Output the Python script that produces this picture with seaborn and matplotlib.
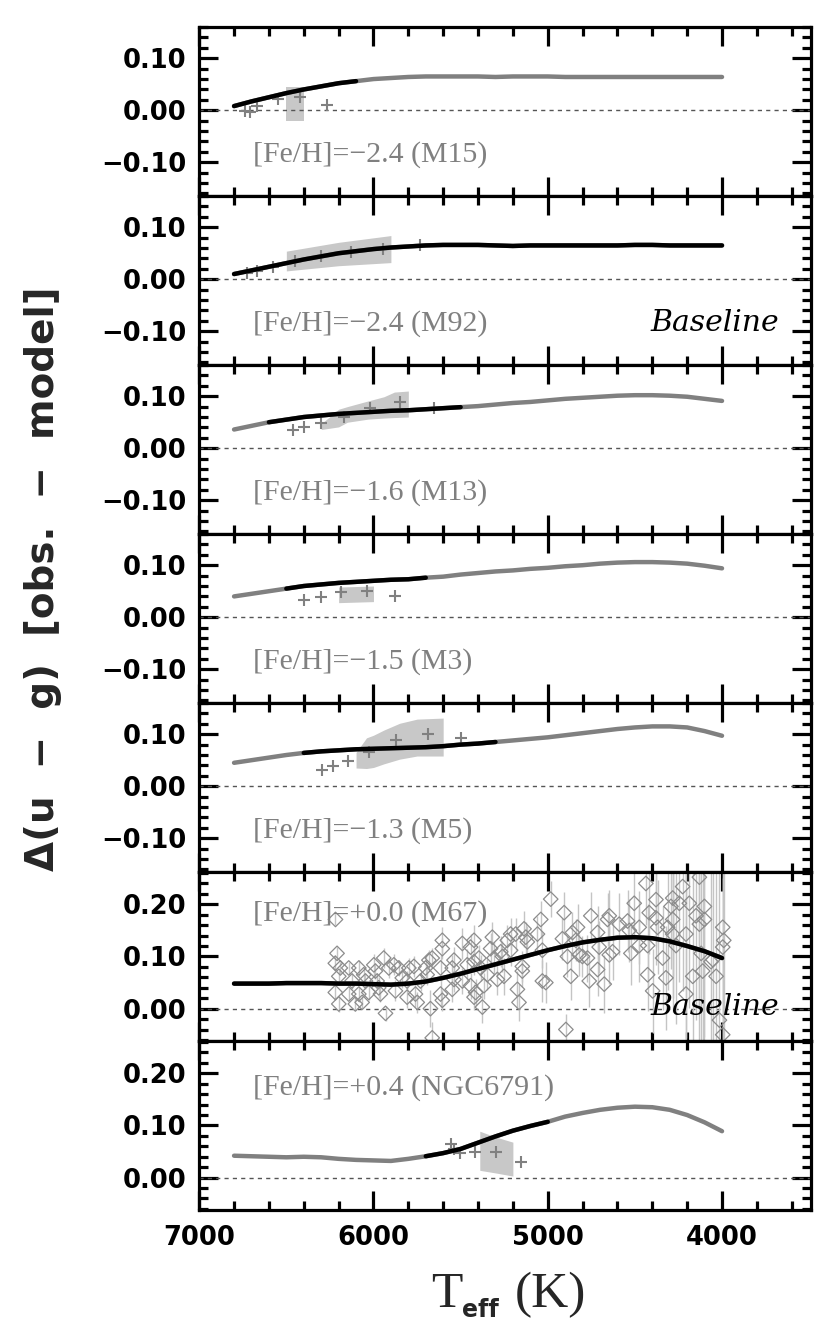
import matplotlib
matplotlib.use("Agg")
import matplotlib.pyplot as plt
import seaborn as sns
import pandas as pd
from matplotlib.ticker import MultipleLocator, FixedLocator, FixedFormatter

# model grid (K)
teff_model = list(range(6800, 3999, -100))

# model curves, Delta(u-g) on the grid above
m15_model = [0.008, 0.017, 0.025, 0.033, 0.040, 0.046, 0.052, 0.056, 0.060, 0.062,
             0.064, 0.065, 0.065, 0.065, 0.065, 0.064, 0.065, 0.065, 0.065, 0.064,
             0.064, 0.064, 0.064, 0.064, 0.064, 0.064, 0.064, 0.064, 0.064]
m92_model = [0.010, 0.017, 0.024, 0.031, 0.038, 0.044, 0.050, 0.054, 0.058, 0.061,
             0.063, 0.065, 0.066, 0.066, 0.066, 0.065, 0.064, 0.065, 0.065, 0.065,
             0.065, 0.065, 0.065, 0.066, 0.066, 0.065, 0.065, 0.065, 0.065]
m13_model = [0.036, 0.043, 0.050, 0.055, 0.060, 0.063, 0.066, 0.068, 0.070, 0.072,
             0.073, 0.075, 0.077, 0.079, 0.081, 0.084, 0.087, 0.089, 0.092, 0.095,
             0.097, 0.099, 0.101, 0.102, 0.102, 0.101, 0.099, 0.095, 0.091]
m3_model = [0.040, 0.045, 0.050, 0.055, 0.060, 0.063, 0.066, 0.068, 0.070, 0.072,
            0.073, 0.076, 0.078, 0.082, 0.085, 0.088, 0.090, 0.093, 0.095, 0.098,
            0.100, 0.103, 0.105, 0.106, 0.106, 0.105, 0.103, 0.099, 0.094]
m5_model = [0.045, 0.050, 0.055, 0.060, 0.064, 0.067, 0.069, 0.071, 0.072, 0.073,
            0.074, 0.075, 0.077, 0.080, 0.082, 0.085, 0.088, 0.091, 0.094, 0.098,
            0.102, 0.106, 0.110, 0.113, 0.115, 0.115, 0.113, 0.106, 0.097]
m67_model = [0.048, 0.048, 0.048, 0.049, 0.049, 0.049, 0.048, 0.048, 0.047, 0.046,
             0.048, 0.052, 0.059, 0.067, 0.076, 0.085, 0.094, 0.103, 0.112, 0.120,
             0.127, 0.132, 0.136, 0.137, 0.135, 0.129, 0.120, 0.110, 0.097]
n6791_model = [0.042, 0.041, 0.040, 0.039, 0.040, 0.039, 0.036, 0.034, 0.033, 0.032,
               0.036, 0.041, 0.047, 0.055, 0.067, 0.079, 0.090, 0.099, 0.107, 0.117,
               0.124, 0.130, 0.134, 0.136, 0.135, 0.130, 0.120, 0.106, 0.089]

# Teff range where the model line is drawn black (hot, cool)
m15_fit = (6800, 6100)
m92_fit = (6800, 4000)
m13_fit = (6600, 5500)
m3_fit = (6500, 5700)
m5_fit = (6400, 5300)
m67_fit = (6800, 4000)
n6791_fit = (5700, 5000)

# shaded uncertainty bands
m15_band_t = [6500, 6400]
m15_band_lo = [-0.020, -0.020]
m15_band_hi = [0.045, 0.045]
m92_band_t = [6500, 6200, 5900]
m92_band_lo = [0.016, 0.026, 0.032]
m92_band_hi = [0.054, 0.071, 0.084]
m13_band_t = [6300, 6200, 6150, 6030, 5940, 5880, 5800]
m13_band_lo = [0.036, 0.041, 0.050, 0.056, 0.058, 0.059, 0.060]
m13_band_hi = [0.047, 0.075, 0.080, 0.091, 0.099, 0.108, 0.110]
m3_band_t = [6200, 6000]
m3_band_lo = [0.028, 0.030]
m3_band_hi = [0.058, 0.060]
m5_band_t = [6100, 6040, 6000, 5940, 5850, 5750, 5600]
m5_band_lo = [0.035, 0.034, 0.036, 0.043, 0.052, 0.058, 0.058]
m5_band_hi = [0.065, 0.093, 0.098, 0.108, 0.121, 0.129, 0.131]
n6791_band_t = [5390, 5300, 5200]
n6791_band_lo = [0.014, 0.009, 0.003]
n6791_band_hi = [0.089, 0.078, 0.068]

# cluster points (+)
m15_t = [6740, 6710, 6670, 6550, 6420, 6265]
m15_d = [-0.002, -0.004, 0.009, 0.021, 0.025, 0.010]
m92_t = [6725, 6670, 6575, 6450, 6300, 6130, 5945, 5735]
m92_d = [0.012, 0.016, 0.024, 0.035, 0.044, 0.053, 0.058, 0.065]
m13_t = [6460, 6400, 6300, 6170, 6020, 5845, 5655]
m13_d = [0.036, 0.041, 0.049, 0.060, 0.078, 0.088, 0.078]
m3_t = [6400, 6300, 6185, 6040, 5875]
m3_d = [0.033, 0.039, 0.048, 0.050, 0.040]
m5_t = [6295, 6235, 6145, 6025, 5870, 5690, 5495]
m5_d = [0.031, 0.039, 0.049, 0.065, 0.088, 0.101, 0.092]
n6791_t = [5556, 5536, 5501, 5419, 5295, 5151]
n6791_d = [0.065, 0.055, 0.048, 0.050, 0.050, 0.030]

# M67 individual stars (diamonds with error bars)
m67_t = [6218, 6209, 6219, 6190, 6199, 6219, 6199, 6142, 6142, 6123,
         6084, 6084, 6104, 6065, 6056, 6046, 6027, 5998, 5989, 5979,
         5970, 5960, 5941, 5931, 5912, 5883, 5874, 5855, 5835, 5807,
         5797, 5768, 5759, 5749, 5807, 5730, 5701, 5682, 5663, 5692,
         5673, 5663, 5605, 5605, 5615, 5615, 5605, 5548, 5538, 5538,
         5548, 5490, 5490, 5423, 5443, 5462, 5423, 5395, 5385, 5443,
         5414, 5423, 5375, 5366, 5347, 5328, 5318, 5308, 5289, 5270,
         5260, 5251, 5232, 5213, 5213, 5184, 5174, 5165, 5146, 5146,
         5136, 5126, 5117, 5059, 5040, 5031, 5031, 5011, 4983, 4906,
         4916, 4887, 4868, 4858, 4839, 4829, 4820, 4801, 4772, 4762,
         4753, 4714, 4896, 4647, 4657, 4705, 4714, 4676, 4647, 4628,
         4590, 4542, 4532, 4504, 4523, 4475, 4475, 4437, 4427, 4427,
         4418, 4379, 4379, 4370, 4398, 4341, 4322, 4312, 4283, 4293,
         4283, 4283, 4264, 4245, 4226, 4207, 4207, 4188, 4168, 4149,
         4130, 4130, 4120, 4111, 4101, 4101, 4063, 4053, 4034, 4015,
         3996, 3990, 3996, 3996]
m67_d = [0.171, 0.106, 0.087, 0.078, 0.062, 0.031, 0.009, 0.078, 0.028, 0.053,
         0.078, 0.028, 0.009, 0.012, 0.065, 0.053, 0.031, 0.084, 0.072, 0.053,
         0.040, 0.028, 0.097, -0.009, 0.078, 0.084, 0.034, 0.078, 0.059, 0.053,
         0.078, 0.081, 0.028, 0.012, 0.022, 0.053, 0.078, 0.093, 0.097, 0.065,
         0.000, -0.056, 0.131, 0.115, 0.078, 0.028, 0.016, 0.078, 0.093, 0.056,
         0.037, 0.125, 0.053, 0.131, 0.118, 0.084, 0.090, 0.097, 0.078, 0.044,
         0.031, 0.022, 0.003, 0.044, 0.065, 0.115, 0.137, 0.097, 0.056, 0.109,
         0.100, 0.062, 0.131, 0.112, 0.143, 0.143, 0.037, 0.012, 0.081, 0.072,
         0.153, 0.137, 0.128, 0.143, 0.171, 0.112, 0.053, 0.050, 0.210, 0.184,
         0.134, 0.100, 0.062, 0.146, 0.131, 0.156, 0.103, 0.100, 0.097, 0.053,
         0.178, 0.146, -0.040, 0.178, 0.171, 0.118, 0.075, 0.047, 0.103, 0.109,
         0.162, 0.168, 0.150, 0.202, 0.106, 0.121, 0.156, 0.240, 0.121, 0.065,
         0.184, 0.209, 0.174, 0.156, 0.034, 0.097, 0.059, 0.156, 0.171, 0.196,
         0.212, 0.143, 0.121, 0.202, 0.234, 0.143, 0.028, 0.202, 0.062, 0.178,
         0.162, 0.252, 0.106, 0.072, 0.196, 0.171, 0.090, 0.094, 0.062, -0.022,
         0.156, 0.131, 0.118, -0.050]
m67_err = [0.010, 0.012, 0.015, 0.012, 0.012, 0.015, 0.015, 0.012, 0.012, 0.015,
           0.015, 0.015, 0.012, 0.012, 0.015, 0.015, 0.015, 0.020, 0.015, 0.015,
           0.020, 0.015, 0.020, 0.015, 0.020, 0.020, 0.020, 0.015, 0.020, 0.020,
           0.020, 0.020, 0.025, 0.020, 0.020, 0.020, 0.025, 0.020, 0.020, 0.020,
           0.035, 0.030, 0.025, 0.020, 0.025, 0.025, 0.020, 0.025, 0.025, 0.025,
           0.025, 0.030, 0.025, 0.030, 0.025, 0.030, 0.025, 0.025, 0.025, 0.025,
           0.025, 0.025, 0.030, 0.025, 0.030, 0.030, 0.030, 0.030, 0.030, 0.030,
           0.030, 0.035, 0.030, 0.030, 0.030, 0.030, 0.035, 0.035, 0.030, 0.030,
           0.035, 0.030, 0.030, 0.035, 0.035, 0.035, 0.040, 0.040, 0.035, 0.040,
           0.040, 0.040, 0.045, 0.040, 0.040, 0.045, 0.040, 0.040, 0.045, 0.050,
           0.045, 0.050, 0.030, 0.050, 0.050, 0.050, 0.050, 0.055, 0.055, 0.055,
           0.060, 0.060, 0.060, 0.070, 0.060, 0.070, 0.070, 0.080, 0.080, 0.070,
           0.080, 0.090, 0.090, 0.090, 0.080, 0.100, 0.100, 0.120, 0.150, 0.120,
           0.150, 0.150, 0.150, 0.150, 0.200, 0.200, 0.200, 0.200, 0.200, 0.200,
           0.250, 0.250, 0.250, 0.250, 0.250, 0.300, 0.300, 0.300, 0.300, 0.300,
           0.300, 0.300, 0.300, 0.300]

labels = ["[Fe/H]=\u22122.4 (M15)", "[Fe/H]=\u22122.4 (M92)", "[Fe/H]=\u22121.6 (M13)",
          "[Fe/H]=\u22121.5 (M3)", "[Fe/H]=\u22121.3 (M5)", "[Fe/H]=+0.0 (M67)",
          "[Fe/H]=+0.4 (NGC6791)"]
label_y = [-0.085, -0.085, -0.085, -0.085, -0.085, 0.183, 0.172]

sns.set_style("ticks")
plt.rcParams["font.family"] = ["DejaVu Sans"]

GRAY = "#808080"
BAND = "#c8c8c8"

models = [m15_model, m92_model, m13_model, m3_model, m5_model, m67_model, n6791_model]
fits = [m15_fit, m92_fit, m13_fit, m3_fit, m5_fit, m67_fit, n6791_fit]
bands = [(m15_band_t, m15_band_lo, m15_band_hi), (m92_band_t, m92_band_lo, m92_band_hi),
         (m13_band_t, m13_band_lo, m13_band_hi), (m3_band_t, m3_band_lo, m3_band_hi),
         (m5_band_t, m5_band_lo, m5_band_hi), None,
         (n6791_band_t, n6791_band_lo, n6791_band_hi)]
points = [(m15_t, m15_d), (m92_t, m92_d), (m13_t, m13_d), (m3_t, m3_d),
          (m5_t, m5_d), None, (n6791_t, n6791_d)]

fig, axes = plt.subplots(7, 1, sharex=True, figsize=(8.3, 13.33), dpi=100)
fig.subplots_adjust(left=0.240, right=0.977, top=0.9797, bottom=0.0923, hspace=0)

for i, ax in enumerate(axes):
    mod = pd.DataFrame({"teff": teff_model, "dug": models[i]})
    hot, cool = fits[i]
    fit = mod[(mod.teff <= hot) & (mod.teff >= cool)]

    if bands[i] is not None:
        bt, blo, bhi = bands[i]
        ax.fill_between(bt, blo, bhi, color=BAND, lw=0, zorder=1)

    ax.axhline(0, color="#555555", lw=1.0, ls=(0, (3.0, 3.0)), zorder=1.5)

    if points[i] is not None:
        pt, pd_ = points[i]
        ax.plot(pt, pd_, ls="none", marker="+", ms=9, mew=1.5, color=GRAY, zorder=2)

    if i == 5:
        ax.errorbar(m67_t, m67_d, yerr=m67_err, fmt="none", ecolor="#c4c4c4",
                    elinewidth=1.0, zorder=1.8)
        sns.scatterplot(x=m67_t, y=m67_d, marker="D", s=55, facecolor="none",
                        edgecolor="#8c8c8c", linewidth=0.9, ax=ax, zorder=2)

    sns.lineplot(data=mod, x="teff", y="dug", color=GRAY, lw=3.2, ax=ax, zorder=3)
    sns.lineplot(data=fit, x="teff", y="dug", color="black", lw=3.2, ax=ax, zorder=4)

    ax.text(6690, label_y[i], labels[i], color=GRAY, fontsize=21.5,
            family="Liberation Serif", va="center", ha="left")

    if i < 5:
        ax.set_ylim(-0.165, 0.160)
        ticks = [-0.10, 0.0, 0.10]
        tlabels = ["\u22120.10", "0.00", "0.10"]
    else:
        ax.set_ylim(-0.062, 0.262)
        ticks = [0.0, 0.10, 0.20]
        tlabels = ["0.00", "0.10", "0.20"]
    ax.yaxis.set_major_locator(FixedLocator(ticks))
    ax.yaxis.set_major_formatter(FixedFormatter(tlabels))
    ax.yaxis.set_minor_locator(MultipleLocator(0.02))
    ax.set_xlim(7000, 3490)
    ax.xaxis.set_major_locator(MultipleLocator(1000))
    ax.xaxis.set_minor_locator(MultipleLocator(200))
    ax.tick_params(which="both", direction="in", top=True, right=True, width=2.3,
                   color="black", labelcolor="black")
    ax.tick_params(which="major", length=13.5, pad=9, labelsize=18.5)
    ax.tick_params(which="minor", length=6.5)
    for lab in ax.get_xticklabels() + ax.get_yticklabels():
        lab.set_fontweight("bold")
    for sp in ax.spines.values():
        sp.set_linewidth(2.3)
        sp.set_color("black")
    ax.set_xlabel("")
    ax.set_ylabel("")

axes[1].text(3675, -0.085, "Baseline", style="italic", family="DejaVu Serif",
             fontsize=21.5, ha="right", va="center", color="black")
axes[5].text(3675, 0.004, "Baseline", style="italic", family="DejaVu Serif",
             fontsize=21.5, ha="right", va="center", color="black", zorder=5)

axes[-1].set_xticks([7000, 6000, 5000, 4000])
axes[-1].set_xticklabels(["7000", "6000", "5000", "4000"], fontweight="bold")
axes[-1].tick_params(axis="x", which="major", pad=11)

fig.text(0.052, 0.566, "\u0394(u  \u2212  g)  [obs.  \u2212  model]", rotation=90,
         fontsize=28, fontweight="bold", ha="center", va="center")
# x label: T with bold 'eff' subscript, then (K)
fig.text(447 / 830, 1 - 1307 / 1333, "T", family="Liberation Serif", fontsize=37,
         ha="center", va="baseline")
fig.text(462 / 830, 1 - 1317 / 1333, "eff", fontweight="bold", fontsize=17,
         ha="left", va="baseline")
fig.text(550 / 830, 1 - 1307 / 1333, "(K)", family="Liberation Serif", fontsize=37,
         ha="center", va="baseline")

fig.savefig("out.png", dpi=100)
